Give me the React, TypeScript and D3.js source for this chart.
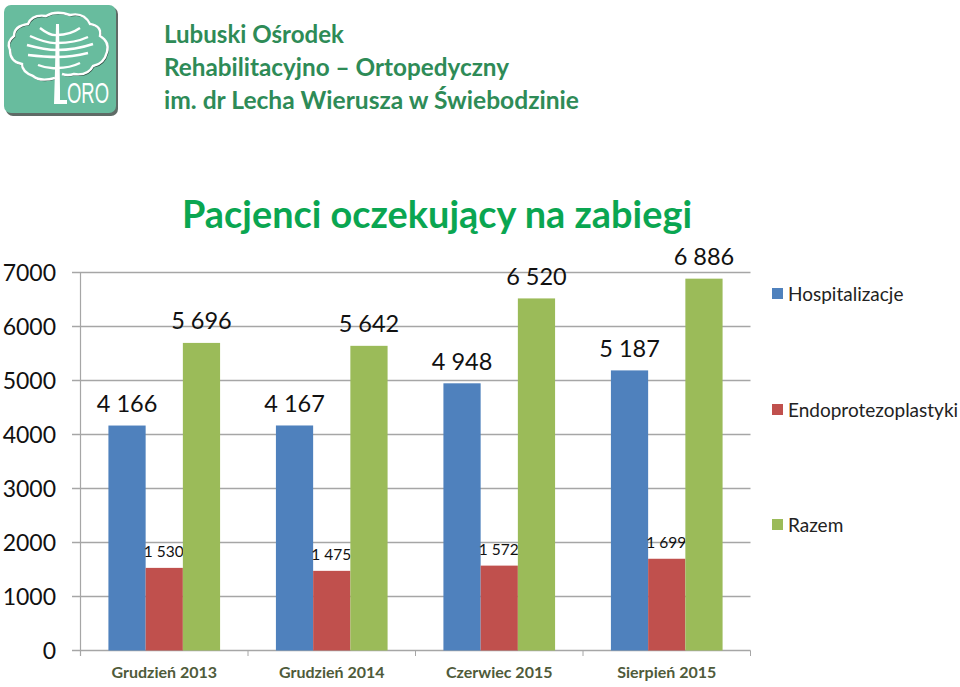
import React from "react";
import * as d3 from "d3";

const categories = ["Grudzień 2013", "Grudzień 2014", "Czerwiec 2015", "Sierpień 2015"];
const seriesNames = ["Hospitalizacje", "Endoprotezoplastyki", "Razem"];
const hospitalizacje = [4166, 4167, 4948, 5187];
const endoprotezoplastyki = [1530, 1475, 1572, 1699];
const razem = [5696, 5642, 6520, 6886];
const yTicks = [0, 1000, 2000, 3000, 4000, 5000, 6000, 7000];
const colors = ["#4f81bd", "#c0504d", "#9bbb59"];
const headerLines = ["Lubuski Ośrodek", "Rehabilitacyjno – Ortopedyczny", "im. dr Lecha Wierusza w Świebodzinie"];
const headerWidths = [180, 345, 415];
const title = "Pacjenci oczekujący na zabiegi";
const legendY = [294, 410, 525];

const FONT = "Lato, 'Noto Sans', sans-serif";
const fmt = (v: number) => {
  const s = String(v);
  return s.slice(0, s.length - 3) + " " + s.slice(-3);
};

const branches = [
  "M40 28 Q50 36 57 35 Q70 35 80 28",
  "M30 36 Q48 44 57 43 Q75 43 88 37",
  "M27 45 Q45 50 57 50 Q75 50 93 44",
  "M28 55 Q45 57 57 57 Q72 57 88 53",
  "M38 65 Q48 69 57 68 Q70 68 80 63",
];
const crown =
  "M55 78 Q40 82 33 76 Q22 72 22 64 Q10 62 10 50 Q6 42 14 36 Q14 26 28 24 Q32 14 46 16 Q56 10 70 15 Q84 12 90 24 Q102 26 100 36 Q110 42 107 52 Q104 64 93 66 Q88 76 74 74 Q68 76 62 74";
const trunk = "M56 24 L59 24 L60 90 L60 100 L67 100 L67 104 L54 104 L55 70 Z";

export default function App() {
  const x0 = d3.scaleBand<string>().domain(categories).range([80.5, 750.5]);
  const x1 = d3
    .scaleBand<string>()
    .domain(seriesNames)
    .range([0, x0.bandwidth()])
    .paddingInner(0)
    .paddingOuter(0.75);
  const y = d3.scaleLinear().domain([0, 7000]).range([650.5, 272.5]);
  const series = [hospitalizacje, endoprotezoplastyki, razem];
  const w = x1.bandwidth();

  return (
    <svg
      width={960}
      height={687}
      style={{ position: "absolute", left: 0, top: 0, background: "#fff" }}
      fontFamily={FONT}
    >
      <rect x={6} y={7} width={112} height={109} rx={7} fill="#5f6b66" />
      <rect x={4} y={5} width={112} height={108} rx={7} fill="#68bc9e" />
      <path d={crown} fill="none" stroke="#2f4a40" strokeWidth={1.2} transform="translate(0.8,1)" />
      <path d={crown} fill="none" stroke="#fff" strokeWidth={2.4} />
      {branches.map((d) => (
        <path key={d} d={d} fill="none" stroke="#fff" strokeWidth={2.4} />
      ))}
      <path d={trunk} fill="#fff" />
      <text
        x={67}
        y={103}
        fontFamily="'Liberation Sans Narrow', 'Liberation Sans', sans-serif"
        fontSize={30}
        fill="#fff"
        textLength={42}
        lengthAdjust="spacingAndGlyphs"
      >
        ORO
      </text>

      {headerLines.map((t, i) => (
        <text
          key={t}
          x={164}
          y={43 + i * 33}
          fontSize={24}
          fontWeight={700}
          fill="#2e8b57"
          textLength={headerWidths[i]}
          lengthAdjust="spacingAndGlyphs"
        >
          {t}
        </text>
      ))}
      <text x={182} y={228} fontSize={38} fontWeight={700} fill="#0aa651" textLength={510} lengthAdjust="spacingAndGlyphs">
        {title}
      </text>

      {yTicks.map((t) => (
        <g key={t}>
          <line x1={72} x2={750.5} y1={y(t)} y2={y(t)} stroke="#a6a6a6" strokeWidth={1.5} />
          <text x={56} y={y(t) + 8} textAnchor="end" fontSize={23} fill="#111">
            {t}
          </text>
        </g>
      ))}
      <line x1={80.5} x2={80.5} y1={272.5} y2={656} stroke="#a6a6a6" strokeWidth={1.2} />
      {categories.map((c, i) => {
        const xp = 80.5 + (i + 1) * x0.step();
        return <line key={c} x1={xp} x2={xp} y1={650.5} y2={656} stroke="#a6a6a6" strokeWidth={1} />;
      })}

      {categories.map((c, i) =>
        seriesNames.map((s, j) => {
          const v = series[j][i];
          const bx = x0(c)! + x1(s)!;
          return (
            <g key={s}>
              <rect x={bx} y={y(v)} width={w} height={650.5 - y(v)} fill={colors[j]} />
              <text
                x={bx + w / 2 - (j === 1 ? 0.5 : 0)}
                y={y(v) - (j === 1 ? 10.5 : 13.5)}
                textAnchor="middle"
                fontSize={j === 1 ? 15.5 : 23.5}
                fill="#111"
              >
                {fmt(v)}
              </text>
            </g>
          );
        })
      )}

      {categories.map((c) => (
        <text key={c} x={x0(c)! + x0.bandwidth() / 2} y={678} textAnchor="middle" fontSize={16} fontWeight={700} fill="#4f5b3a">
          {c}
        </text>
      ))}

      {seriesNames.map((s, j) => (
        <g key={s}>
          <rect x={772} y={legendY[j] - 6} width={11} height={11} fill={colors[j]} />
          <text x={788} y={legendY[j] + 6.5} fontSize={19} fill="#222">
            {s}
          </text>
        </g>
      ))}
    </svg>
  );
}
